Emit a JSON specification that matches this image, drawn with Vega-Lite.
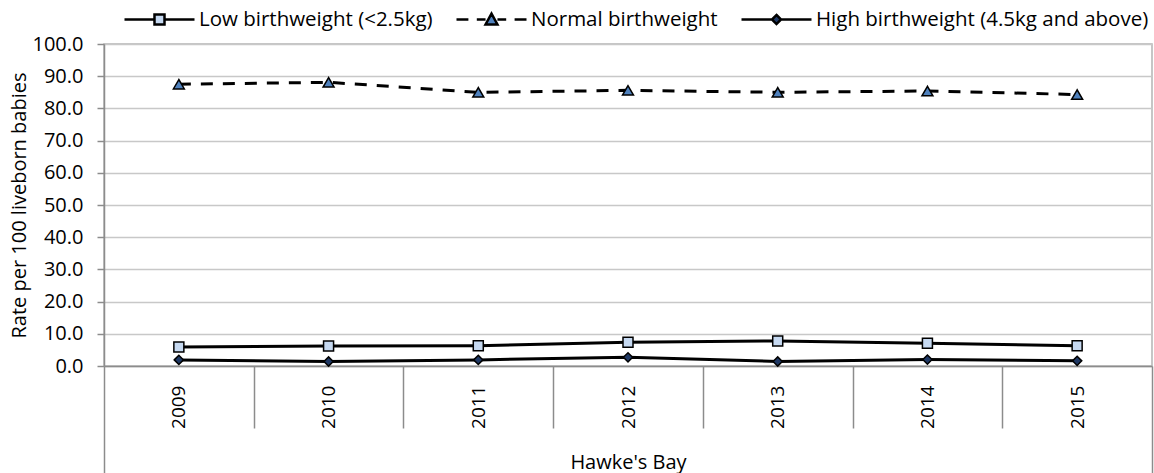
{
  "$schema": "https://vega.github.io/schema/vega-lite/v6.json",
  "width": 1048,
  "height": 322,
  "autosize": {"type": "none"},
  "padding": {"left": 104, "top": 44, "right": 2, "bottom": 107},
  "background": "white",
  "config": {
    "font": "Open Sans",
    "view": {"stroke": "#b4b4b4", "strokeWidth": 1.5},
    "axis": {"labelFont": "Open Sans", "titleFont": "Open Sans", "labelColor": "#000", "titleColor": "#000", "titleFontWeight": "normal", "labelFontSize": 19, "titleFontSize": 20}
  },
  "data": {"values": [
    {"year": "2009", "series": "Low birthweight (<2.5kg)", "value": 5.9},
    {"year": "2010", "series": "Low birthweight (<2.5kg)", "value": 6.2},
    {"year": "2011", "series": "Low birthweight (<2.5kg)", "value": 6.3},
    {"year": "2012", "series": "Low birthweight (<2.5kg)", "value": 7.4},
    {"year": "2013", "series": "Low birthweight (<2.5kg)", "value": 7.8},
    {"year": "2014", "series": "Low birthweight (<2.5kg)", "value": 7.1},
    {"year": "2015", "series": "Low birthweight (<2.5kg)", "value": 6.3},
    {"year": "2009", "series": "Normal birthweight", "value": 87.5},
    {"year": "2010", "series": "Normal birthweight", "value": 88.1},
    {"year": "2011", "series": "Normal birthweight", "value": 85.0},
    {"year": "2012", "series": "Normal birthweight", "value": 85.6},
    {"year": "2013", "series": "Normal birthweight", "value": 85.0},
    {"year": "2014", "series": "Normal birthweight", "value": 85.4},
    {"year": "2015", "series": "Normal birthweight", "value": 84.3},
    {"year": "2009", "series": "High birthweight (4.5kg and above)", "value": 1.9},
    {"year": "2010", "series": "High birthweight (4.5kg and above)", "value": 1.4},
    {"year": "2011", "series": "High birthweight (4.5kg and above)", "value": 1.9},
    {"year": "2012", "series": "High birthweight (4.5kg and above)", "value": 2.7},
    {"year": "2013", "series": "High birthweight (4.5kg and above)", "value": 1.4},
    {"year": "2014", "series": "High birthweight (4.5kg and above)", "value": 2.0},
    {"year": "2015", "series": "High birthweight (4.5kg and above)", "value": 1.6}
  ]},
  "encoding": {
    "x": {
      "field": "year", "type": "ordinal",
      "scale": {"paddingInner": 0, "paddingOuter": 0},
      "axis": {
        "title": "Hawke's Bay",
        "labelAngle": -90,
        "labelPadding": {"condition": {"test": "datum.index == 1", "value": -88}, "value": -43},
        "tickBand": "extent",
        "tickSize": {"condition": {"test": "datum.index == -1 || datum.index == 1", "value": 107}, "value": 62},
        "tickColor": "#8c8c8c",
        "tickWidth": 1.5,
        "domainColor": "#8c8c8c",
        "domainWidth": 1.5,
        "titleY": 102,
        "titleBaseline": "alphabetic",
        "grid": false
      }
    },
    "y": {
      "field": "value", "type": "quantitative",
      "scale": {"domain": [0, 100], "nice": false},
      "axis": {
        "title": "Rate per 100 liveborn babies",
        "values": [0, 10, 20, 30, 40, 50, 60, 70, 80, 90, 100],
        "format": ".1f",
        "labelFontSize": 20,
        "tickSize": 7,
        "labelPadding": 14,
        "titlePadding": 3,
        "tickColor": "#8c8c8c",
        "tickWidth": 1.5,
        "domainColor": "#8c8c8c",
        "domainWidth": 1.5,
        "gridColor": "#c8c8c8",
        "gridWidth": 1.5
      }
    }
  },
  "layer": [
    {
      "mark": {"type": "point", "size": 0, "filled": true, "strokeWidth": 2.5, "opacity": 1},
      "encoding": {
        "shape": {
          "field": "series", "type": "nominal",
          "scale": {
            "domain": ["Low birthweight (<2.5kg)", "Normal birthweight", "High birthweight (4.5kg and above)"],
            "range": [
              "M-1,0H-0.143M0.143,0H1M-0.143,-0.143H0.143V0.143H-0.143Z",
              "M-1,0H-0.66M-0.42,0H-0.17M0.17,0H0.42M0.66,0H1M0,-0.17L0.17,0.14L-0.17,0.14Z",
              "M-1,0H-0.13M0.13,0H1M0,-0.13L0.13,0L0,0.13L-0.13,0Z"
            ]
          },
          "legend": {
            "title": null,
            "orient": "none",
            "legendX": 19,
            "legendY": -61,
            "direction": "horizontal",
            "padding": 0,
            "columnPadding": 18,
            "labelOffset": 3,
            "labelLimit": 500,
            "labelFont": "Open Sans",
            "labelFontSize": 20.5,
            "labelColor": "#000",
            "symbolSize": 4900,
            "symbolStrokeWidth": 2.5,
            "symbolStrokeColor": "#000",
            "symbolOpacity": 1,
            "encode": {
              "symbols": {
                "update": {
                  "size": {"value": 4900},
                  "strokeWidth": {"value": 2.5},
                  "opacity": {"value": 1}
                }
              }
            }
          }
        },
        "fill": {
          "field": "series", "type": "nominal",
          "scale": {"domain": ["Low birthweight (<2.5kg)", "Normal birthweight", "High birthweight (4.5kg and above)"], "range": ["#c6d9f1", "#4f81bd", "#1f3864"]}
        },
        "stroke": {
          "field": "series", "type": "nominal",
          "scale": {"domain": ["Low birthweight (<2.5kg)", "Normal birthweight", "High birthweight (4.5kg and above)"], "range": ["#000000", "#000000", "#000000"]}
        }
      }
    },
    {
      "transform": [{"filter": "datum.series !== 'Normal birthweight'"}],
      "mark": {"type": "line", "color": "#000", "strokeWidth": 3},
      "encoding": {"detail": {"field": "series"}}
    },
    {
      "transform": [{"filter": "datum.series === 'Normal birthweight'"}],
      "mark": {"type": "line", "color": "#000", "strokeWidth": 3, "strokeDash": [12, 10]},
      "encoding": {}
    },
    {
      "transform": [{"filter": "datum.series === 'Low birthweight (<2.5kg)'"}],
      "mark": {"type": "point", "shape": "square", "filled": true, "fill": "#c6d9f1", "stroke": "#000", "strokeWidth": 1.5, "size": 100, "opacity": 1},
      "encoding": {}
    },
    {
      "transform": [{"filter": "datum.series === 'Normal birthweight'"}],
      "mark": {"type": "point", "shape": "triangle-up", "filled": true, "fill": "#4f81bd", "stroke": "#000", "strokeWidth": 1.5, "size": 120, "opacity": 1},
      "encoding": {}
    },
    {
      "transform": [{"filter": "datum.series === 'High birthweight (4.5kg and above)'"}],
      "mark": {"type": "point", "shape": "diamond", "filled": true, "fill": "#1f3864", "stroke": "#000", "strokeWidth": 1.5, "size": 85, "opacity": 1},
      "encoding": {}
    }
  ]
}
